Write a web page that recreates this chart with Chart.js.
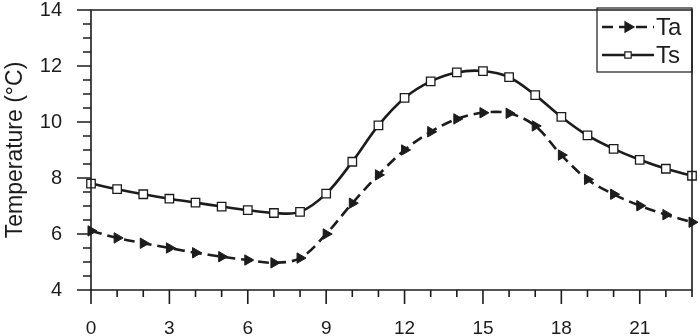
<!DOCTYPE html>
<html>
<head>
<meta charset="utf-8">
<script src="https://cdn.jsdelivr.net/npm/chart.js@4.4.1/dist/chart.umd.min.js"></script>
<style>
    html, body { margin: 0; padding: 0; background: #fff; }
    #wrap { width: 699px; height: 336px; }
</style>
</head>
<body>
<div id="wrap"><canvas id="lineChart" width="699" height="336"></canvas></div>
<script>
// Chart data
var hours = [0, 1, 2, 3, 4, 5, 6, 7, 8, 9, 10, 11, 12, 13, 14, 15, 16, 17, 18, 19, 20, 21, 22, 23];
var taValues = [6.11, 5.86, 5.67, 5.50, 5.33, 5.19, 5.07, 4.97, 5.14, 6.00, 7.10, 8.11, 9.00, 9.65, 10.11, 10.33, 10.31, 9.86, 8.82, 7.95, 7.42, 7.01, 6.69, 6.42];
var tsValues = [7.80, 7.60, 7.42, 7.26, 7.12, 6.98, 6.85, 6.75, 6.79, 7.44, 8.58, 9.88, 10.86, 11.45, 11.77, 11.82, 11.60, 10.96, 10.18, 9.52, 9.04, 8.65, 8.33, 8.08];
var seriesNames = ['Ta', 'Ts'];
var xTickLabels = [0, 3, 6, 9, 12, 15, 18, 21];
var yTickLabels = [4, 6, 8, 10, 12, 14];
var yTitle = 'Temperature (\u00B0C)';

var ink = '#1c1c1c';

function toPoints(values) {
    return values.map(function (v, i) { return { x: hours[i], y: v }; });
}

// Frame, axes and tick marks (all outside the plot box)
var framePlugin = {
    id: 'frame',
    afterDraw: function (chart) {
        var ctx = chart.ctx;
        var a = chart.chartArea;
        var xs = chart.scales.x;
        var ys = chart.scales.y;
        ctx.save();
        ctx.strokeStyle = ink;
        ctx.lineWidth = 1.6;
        ctx.beginPath();
        ctx.rect(a.left, a.top, a.right - a.left, a.bottom - a.top);
        ctx.stroke();

        ctx.beginPath();
        for (var v = ys.min; v <= ys.max + 1e-6; v += 0.5) {
            var py = ys.getPixelForValue(v);
            var len = yTickLabels.indexOf(v) >= 0 ? 14 : 8;
            ctx.moveTo(a.left - len, py);
            ctx.lineTo(a.left, py);
        }
        for (var h = xs.min; h <= xs.max; h++) {
            var px = xs.getPixelForValue(h);
            var tl = xTickLabels.indexOf(h) >= 0 ? 14 : 7;
            ctx.moveTo(px, a.bottom);
            ctx.lineTo(px, a.bottom + tl);
        }
        ctx.stroke();
        ctx.restore();
    },
    afterDatasetsDraw: function (chart) {
        // Legend box in the top right corner
        var ctx = chart.ctx;
        var a = chart.chartArea;
        var bx = a.right - 95, by = a.top - 2, bw = 95, bh = 64;
        ctx.save();
        ctx.fillStyle = '#fff';
        ctx.fillRect(bx, by, bw, bh);
        ctx.strokeStyle = ink;
        ctx.lineWidth = 1.2;
        ctx.strokeRect(bx, by, bw, bh);

        chart.data.datasets.forEach(function (ds, i) {
            var cy = by + 19 + i * 28;
            var x0 = bx + 5, x1 = bx + 57;
            ctx.strokeStyle = ink;
            ctx.lineWidth = 2.4;
            ctx.setLineDash(ds.borderDash || []);
            ctx.beginPath();
            ctx.moveTo(x0, cy);
            ctx.lineTo(x1, cy);
            ctx.stroke();
            ctx.setLineDash([]);
            ctx.fillStyle = ds.pointBackgroundColor;
            ctx.lineWidth = 1.2;
            Chart.helpers.drawPoint(ctx, {
                pointStyle: ds.pointStyle,
                rotation: ds.pointRotation || 0,
                radius: i === 0 ? 6 : 4.5,
                borderWidth: 1.2
            }, (x0 + x1) / 2, cy);
            ctx.fillStyle = ink;
            ctx.font = '24px "Liberation Sans", Arial, sans-serif';
            ctx.textBaseline = 'middle';
            ctx.textAlign = 'left';
            ctx.fillText(ds.label, x1 + 2, cy + 1);
        });
        ctx.restore();
    }
};

var ctx = document.getElementById('lineChart').getContext('2d');
new Chart(ctx, {
    type: 'line',
    data: {
        datasets: [
            {
                label: seriesNames[0],
                data: toPoints(taValues),
                borderColor: ink,
                backgroundColor: ink,
                borderWidth: 2.6,
                borderDash: [11, 6],
                tension: 0.35,
                pointStyle: 'triangle',
                pointRotation: 90,
                pointRadius: 6,
                pointBorderWidth: 1,
                pointBackgroundColor: ink,
                pointBorderColor: ink,
                clip: false
            },
            {
                label: seriesNames[1],
                data: toPoints(tsValues),
                borderColor: ink,
                backgroundColor: '#fff',
                borderWidth: 2.6,
                tension: 0.35,
                pointStyle: 'rect',
                pointRadius: 6,
                pointBorderWidth: 1.3,
                pointBackgroundColor: '#fff',
                pointBorderColor: ink,
                clip: false
            }
        ]
    },
    options: {
        responsive: false,
        animation: false,
        devicePixelRatio: 1,
        layout: { autoPadding: false, padding: { top: 10, right: 7, left: 0, bottom: 0 } },
        plugins: {
            legend: { display: false },
            tooltip: { enabled: false }
        },
        scales: {
            x: {
                type: 'linear',
                min: 0,
                max: 23,
                afterFit: function (scale) {
                    scale.height = 46;
                    scale.paddingLeft = 0;
                    scale.paddingRight = 0;
                },
                grid: { display: false, drawTicks: false },
                border: { display: false },
                ticks: {
                    stepSize: 1,
                    autoSkip: false,
                    maxRotation: 0,
                    padding: 27,
                    color: ink,
                    font: { family: '"Liberation Sans", Arial, sans-serif', size: 19 },
                    callback: function (v) { return xTickLabels.indexOf(v) >= 0 ? String(v) : ''; }
                }
            },
            y: {
                min: 4,
                max: 14,
                afterFit: function (scale) {
                    scale.width = 91;
                    scale.paddingTop = 0;
                    scale.paddingBottom = 0;
                },
                grid: { display: false, drawTicks: false },
                border: { display: false },
                title: {
                    display: true,
                    text: yTitle,
                    color: ink,
                    padding: { top: 2, bottom: 0 },
                    font: { family: '"Liberation Sans", Arial, sans-serif', size: 23 }
                },
                ticks: {
                    stepSize: 2,
                    padding: 29,
                    color: ink,
                    font: { family: '"Liberation Sans", Arial, sans-serif', size: 20 },
                    callback: function (v) { return yTickLabels.indexOf(v) >= 0 ? String(v) : ''; }
                }
            }
        }
    },
    plugins: [framePlugin]
});
</script>
</body>
</html>
